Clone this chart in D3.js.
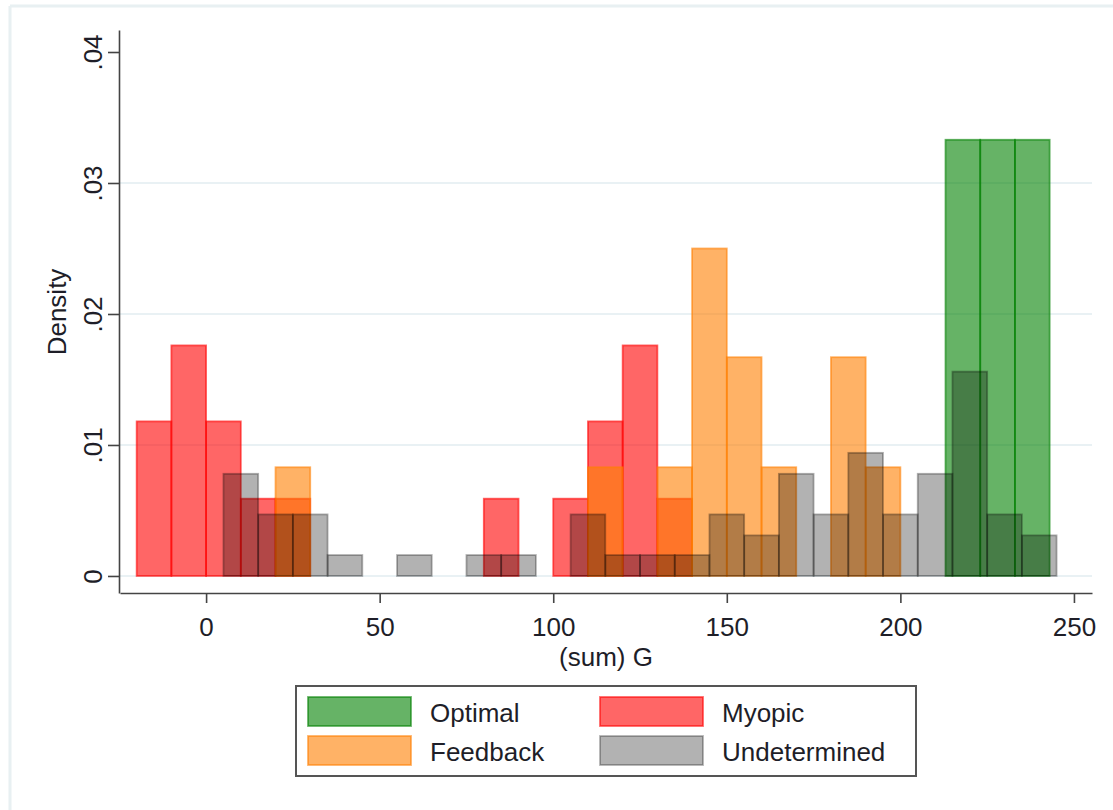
<!DOCTYPE html>
<html>
<head>
<meta charset="utf-8">
<script src="https://cdn.jsdelivr.net/npm/d3@7"></script>
<style>
  html, body { margin: 0; padding: 0; background: #ffffff; }
  svg text { font-family: "Liberation Sans", Arial, sans-serif; fill: #1e1e28; }
</style>
</head>
<body>
<svg id="chart" width="1113" height="810"></svg>
<script>
// ---------------- data ----------------
const binWidth = 10;

const optimalStart   = [213, 223, 233];
const optimalDensity = [0.0333, 0.0333, 0.0333];

const myopicStart   = [-20, -10, 0, 10, 20, 80, 100, 110, 120, 130];
const myopicDensity = [0.0118, 0.0176, 0.0118, 0.0059, 0.0059, 0.0059, 0.0059, 0.0118, 0.0176, 0.0059];

const feedbackStart   = [20, 110, 130, 140, 150, 160, 180, 190];
const feedbackDensity = [0.0083, 0.0083, 0.0083, 0.0250, 0.0167, 0.0083, 0.0167, 0.0083];

const undeterminedStart   = [5, 15, 25, 35, 55, 75, 85, 105, 115, 125, 135, 145, 155, 165, 175, 185, 195, 205, 215, 225, 235];
const undeterminedDensity = [0.0078, 0.0047, 0.0047, 0.0016, 0.0016, 0.0016, 0.0016, 0.0047, 0.0016, 0.0016, 0.0016,
                             0.0047, 0.0031, 0.0078, 0.0047, 0.0094, 0.0047, 0.0078, 0.0156, 0.0047, 0.0031];

const seriesNames = ["Optimal", "Myopic", "Feedback", "Undetermined"];
const xTicks = [0, 50, 100, 150, 200, 250];
const yTicks = [0, 0.01, 0.02, 0.03, 0.04];
const yTickLabels = ["0", ".01", ".02", ".03", ".04"];
const gridValues = [0, 0.01, 0.02, 0.03];
const xTitle = "(sum) G";
const yTitle = "Density";

// ---------------- styling ----------------
const colors = {
  Optimal: "#008000",
  Myopic: "#ff0000",
  Feedback: "#ff7f00",
  Undetermined: "#000000"
};
const opacities = { Optimal: 0.6, Myopic: 0.6, Feedback: 0.6, Undetermined: 0.3 };
const fontSize = 26;

const svg = d3.select("#chart");

// outer faint frame
svg.append("line").attr("x1", 10).attr("x2", 10).attr("y1", 6).attr("y2", 810)
  .attr("stroke", "#e8f0f2").attr("stroke-width", 3);
svg.append("line").attr("x1", 10).attr("x2", 1113).attr("y1", 6).attr("y2", 6)
  .attr("stroke", "#e8f0f2").attr("stroke-width", 3);

// scales
const x = d3.scaleLinear().domain([-24.8, 255.2]).range([120, 1092]);
const y = d3.scaleLinear().domain([-0.0013, 0.04168]).range([593, 30]);

// gridlines
svg.append("g").selectAll("line").data(gridValues).join("line")
  .attr("x1", x.range()[0]).attr("x2", x.range()[1])
  .attr("y1", d => y(d)).attr("y2", d => y(d))
  .attr("stroke", "#e2edf0").attr("stroke-width", 1.5);

// bars
const groups = [
  { name: "Optimal", start: optimalStart, dens: optimalDensity },
  { name: "Myopic", start: myopicStart, dens: myopicDensity },
  { name: "Feedback", start: feedbackStart, dens: feedbackDensity },
  { name: "Undetermined", start: undeterminedStart, dens: undeterminedDensity }
];

groups.forEach(g => {
  const data = g.start.map((s, i) => ({ s, d: g.dens[i] }));
  svg.append("g").selectAll("rect").data(data).join("rect")
    .attr("x", d => x(d.s))
    .attr("width", d => x(d.s + binWidth) - x(d.s))
    .attr("y", d => y(d.d))
    .attr("height", d => y(0) - y(d.d))
    .attr("fill", colors[g.name]).attr("fill-opacity", opacities[g.name])
    .attr("stroke", colors[g.name]).attr("stroke-opacity", opacities[g.name])
    .attr("stroke-width", 1.8);
});

// x axis
const xAxis = svg.append("g").attr("transform", `translate(0,593)`)
  .call(d3.axisBottom(x).tickValues(xTicks).tickSize(10).tickPadding(15).tickSizeOuter(0)
        .tickFormat(d3.format("d")));
xAxis.select(".domain").attr("stroke", "#444").attr("stroke-width", 1.6);
xAxis.selectAll(".tick line").attr("stroke", "#444").attr("stroke-width", 1.6);
xAxis.selectAll("text").style("font-size", fontSize + "px").attr("fill", "#1e1e28");

// y axis
const yAxis = svg.append("g").attr("transform", `translate(119,0)`)
  .call(d3.axisLeft(y).tickValues(yTicks).tickSize(11).tickSizeOuter(0)
        .tickFormat((d, i) => yTickLabels[i]));
yAxis.select(".domain").attr("stroke", "#444").attr("stroke-width", 1.6);
yAxis.selectAll(".tick line").attr("stroke", "#444").attr("stroke-width", 1.6);
yAxis.selectAll("text")
  .attr("transform", "rotate(-90)")
  .attr("x", 0).attr("y", -17).attr("dy", 0)
  .style("text-anchor", "middle")
  .style("font-size", fontSize + "px").attr("fill", "#1e1e28");

// axis titles
svg.append("text").attr("x", 606).attr("y", 666)
  .attr("text-anchor", "middle").style("font-size", fontSize + "px").text(xTitle);
svg.append("text").attr("transform", "translate(66,312) rotate(-90)")
  .attr("text-anchor", "middle").style("font-size", fontSize + "px").text(yTitle);

// legend
const legend = svg.append("g");
legend.append("rect").attr("x", 296).attr("y", 686).attr("width", 620).attr("height", 90)
  .attr("fill", "#ffffff").attr("stroke", "#555").attr("stroke-width", 2);

const legendPos = {
  Optimal: [308, 697], Myopic: [600, 697],
  Feedback: [308, 736], Undetermined: [600, 736]
};
seriesNames.forEach(n => {
  const [lx, ly] = legendPos[n];
  legend.append("rect").attr("x", lx).attr("y", ly).attr("width", 103).attr("height", 29)
    .attr("fill", colors[n]).attr("fill-opacity", opacities[n])
    .attr("stroke", colors[n]).attr("stroke-opacity", opacities[n]).attr("stroke-width", 1.8);
  legend.append("text").attr("x", lx + 122).attr("y", ly + 25)
    .style("font-size", fontSize + "px").text(n);
});
</script>
</body>
</html>
